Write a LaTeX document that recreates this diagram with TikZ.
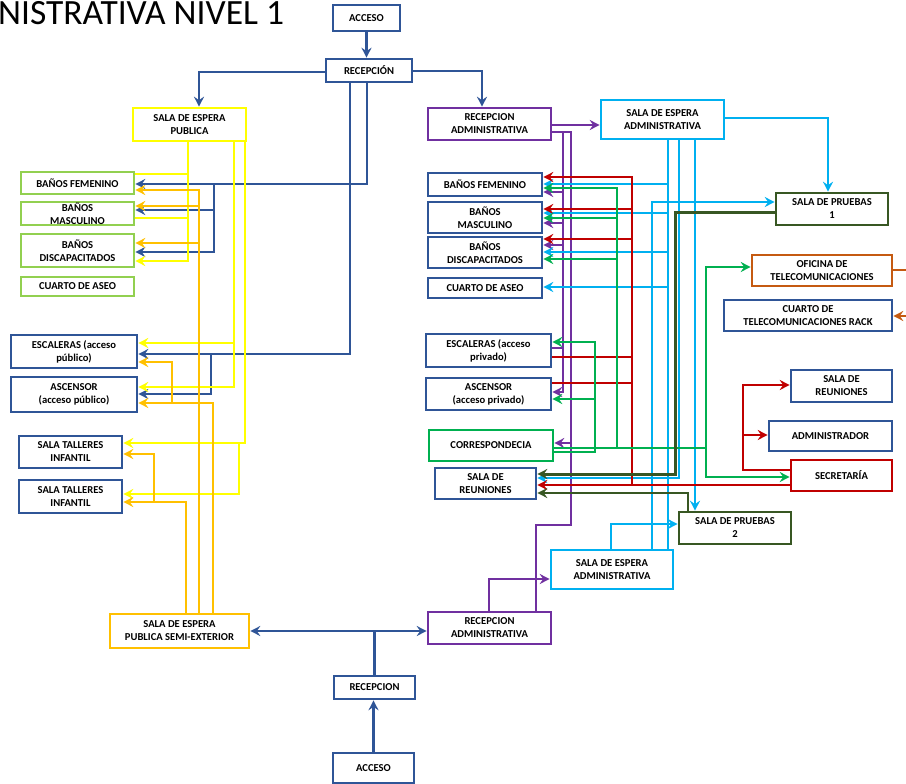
\documentclass[tikz,border=0pt]{standalone}
\usepackage{fontspec}
\setmainfont{Carlito}
\usetikzlibrary{arrows.meta}
\definecolor{cBlue}{RGB}{47,85,151}
\definecolor{cYel}{RGB}{255,255,0}
\definecolor{cGold}{RGB}{255,192,0}
\definecolor{cLG}{RGB}{146,208,80}
\definecolor{cPur}{RGB}{112,48,160}
\definecolor{cCyan}{RGB}{0,176,240}
\definecolor{cRed}{RGB}{192,0,0}
\definecolor{cGreen}{RGB}{0,176,80}
\definecolor{cDG}{RGB}{56,87,35}
\definecolor{cOr}{RGB}{197,90,17}
\newcommand{\bxfont}{\fontsize{10.6}{13}\selectfont\bfseries}
\tikzset{
  ln/.style={line width=2.6pt},
  ar/.style={line width=2.6pt,-{Stealth[length=10pt,width=10pt,inset=3.5pt]}},
  dar/.style={line width=2.6pt,{Stealth[length=10pt,width=10pt,inset=3.5pt]}-{Stealth[length=10pt,width=10pt,inset=3.5pt]}},
  box/.style={draw,line width=2.6pt,fill=white,inner sep=0pt,align=center,font=\bxfont,text=black}
}
\begin{document}
\begin{tikzpicture}[x=1pt,y=-1pt]
\path[use as bounding box] (0,0) rectangle (906,784);
\clip (0,0) rectangle (906,784);
% title
\node[anchor=base west,inner sep=0pt,font=\fontsize{35.5}{36}\selectfont] (title) at (-2,25) {NISTRATIVA NIVEL 1};
% top
\node[box,draw=cBlue,minimum width=67pt,minimum height=26pt] (acc1) at (366.5,18) {ACCESO};
\node[box,draw=cBlue,minimum width=86pt,minimum height=23pt] (rec1) at (369,70.5) {RECEPCIÓN};
\node[box,draw=cYel,minimum width=113pt,minimum height=33pt] (sep) at (189.5,124.5) {SALA DE ESPERA\\PUBLICA};
\node[box,draw=cPur,minimum width=123pt,minimum height=32pt] (rat) at (489.5,124) {RECEPCION\\ADMINISTRATIVA};
\node[box,draw=cCyan,minimum width=123pt,minimum height=39pt] (seat) at (662.5,119.5) {SALA DE ESPERA\\ADMINISTRATIVA};
% right
\node[box,draw=cDG,minimum width=112pt,minimum height=32pt] (sp1) at (832,209) {SALA DE PRUEBAS\\1};
\node[box,draw=cOr,minimum width=140pt,minimum height=31pt] (ofi) at (822,270.5) {OFICINA DE\\TELECOMUNICACIONES};
\node[box,draw=cBlue,minimum width=168pt,minimum height=31pt] (rack) at (808,315.5) {CUARTO DE\\TELECOMUNICACIONES RACK};
\node[box,draw=cBlue,minimum width=101pt,minimum height=32pt] (srr) at (841.5,386) {SALA DE\\REUNIONES};
\node[box,draw=cBlue,minimum width=123pt,minimum height=30pt] (adm) at (830.5,436) {ADMINISTRADOR};
\node[box,draw=cRed,minimum width=101pt,minimum height=31pt] (sec) at (841.5,475.5) {SECRETARÍA};
\node[box,draw=cDG,minimum width=112pt,minimum height=32pt] (sp2) at (735,528) {SALA DE PRUEBAS\\2};
% bottom
\node[box,draw=cCyan,minimum width=122pt,minimum height=39pt] (seab) at (612,569.5) {SALA DE ESPERA\\ADMINISTRATIVA};
\node[box,draw=cPur,minimum width=123pt,minimum height=32pt] (rab) at (489.5,628) {RECEPCION\\ADMINISTRATIVA};
\node[box,draw=cGold,minimum width=139pt,minimum height=34pt] (sepse) at (179.5,631) {SALA DE ESPERA\\PUBLICA SEMI-EXTERIOR};
\node[box,draw=cBlue,minimum width=81pt,minimum height=23pt] (rec2) at (374.5,687.5) {RECEPCION};
\node[box,draw=cBlue,minimum width=81pt,minimum height=30pt] (acc2) at (373.5,768) {ACCESO};
% left column
\node[box,draw=cLG,minimum width=113pt,minimum height=22pt] (lbf) at (77.5,183) {BAÑOS FEMENINO};
\node[box,draw=cLG,minimum width=113pt,minimum height=23pt] (lbm) at (77.5,213.5) {BAÑOS\\MASCULINO};
\node[box,draw=cLG,minimum width=113pt,minimum height=33pt] (lbd) at (77.5,250.5) {BAÑOS\\DISCAPACITADOS};
\node[box,draw=cLG,minimum width=113pt,minimum height=19pt] (lca) at (77.5,286.5) {CUARTO DE ASEO};
\node[box,draw=cBlue,minimum width=126pt,minimum height=33pt] (lesc) at (74,351.5) {ESCALERAS (acceso\\público)};
\node[box,draw=cBlue,minimum width=126pt,minimum height=35pt] (lasc) at (74,394.5) {ASCENSOR\\(acceso público)};
\node[box,draw=cBlue,minimum width=103pt,minimum height=32pt] (st1) at (70.5,452) {SALA TALLERES\\INFANTIL};
\node[box,draw=cBlue,minimum width=103pt,minimum height=33pt] (st2) at (70.5,496.5) {SALA TALLERES\\INFANTIL};
% middle column
\node[box,draw=cBlue,minimum width=114pt,minimum height=23pt] (mbf) at (485,184.5) {BAÑOS FEMENINO};
\node[box,draw=cBlue,minimum width=114pt,minimum height=31pt] (mbm) at (485,217.5) {BAÑOS\\MASCULINO};
\node[box,draw=cBlue,minimum width=114pt,minimum height=31pt] (mbd) at (485,252.5) {BAÑOS\\DISCAPACITADOS};
\node[box,draw=cBlue,minimum width=114pt,minimum height=20pt] (mca) at (485,288) {CUARTO DE ASEO};
\node[box,draw=cBlue,minimum width=125pt,minimum height=33pt] (mesc) at (488.5,350.5) {ESCALERAS (acceso\\privado)};
\node[box,draw=cBlue,minimum width=125pt,minimum height=32pt] (masc) at (488.5,394) {ASCENSOR\\(acceso privado)};
\node[box,draw=cGreen,minimum width=124pt,minimum height=31pt] (cor) at (491,445.5) {CORRESPONDECIA};
\node[box,draw=cBlue,minimum width=101pt,minimum height=31pt] (msr) at (485.5,483.5) {SALA DE\\REUNIONES};

% ---------- blue
\draw[ar,cBlue] (acc1.south) -- (acc1.south |- rec1.north);
\draw[ar,cBlue] (rec1.west |- 0,72) -| (sep.north -| 199,0);
\draw[ar,cBlue] (rec1.east |- 0,71) -| (rat.north -| 482,0);
\draw[ar,cBlue] (rec1.south -| 367,0) |- (lbf.east |- 0,184);
\draw[ar,cBlue] (214,184) |- (lbm.east |- 0,210);
\draw[ar,cBlue] (214,210) |- (lbd.east |- 0,252);
\draw[ar,cBlue] (rec1.south -| 350,0) |- (lesc.east |- 0,354);
\draw[ar,cBlue] (211,354) |- (lasc.east |- 0,394);
\draw[dar,cBlue] (sepse.east) -- (rab.west |- sepse.east);
\draw[ln,cBlue] (rec2.north) -- (rec2.north |- sepse.east);
\draw[ar,cBlue] (acc2.north) -- (acc2.north |- rec2.south);
% ---------- yellow
\draw[ar,cYel] (sep.south -| 188,0) |- (lbd.east |- 0,261);
\draw[ln,cYel] (188,174) -- (lbf.east |- 0,174);
\draw[ln,cYel] (188,218) -- (lbm.east |- 0,218);
\draw[ar,cYel] (sep.south -| 234,0) |- (lesc.east |- 0,343);
\draw[ar,cYel] (234,343) |- (lasc.east |- 0,387);
\draw[ar,cYel] (sep.south -| 245,0) |- (st1.east |- 0,443);
\draw[ar,cYel] (239,443) |- (st2.east |- 0,494);
% ---------- gold
\draw[ar,cGold] (sepse.north -| 199,0) |- (lbf.east |- 0,190);
\draw[ar,cGold] (199,206) -- (lbm.east |- 0,206);
\draw[ar,cGold] (199,243) -- (lbd.east |- 0,243);
\draw[ar,cGold] (sepse.north -| 213,0) |- (lasc.east |- 0,403);
\draw[ar,cGold] (172,403) |- (lesc.east |- 0,362);
\draw[ar,cGold] (sepse.north -| 186,0) |- (st2.east |- 0,502);
\draw[ar,cGold] (154,502) |- (st1.east |- 0,454);
% ---------- purple
\draw[ar,cPur] (rat.east |- 0,125) -- (seat.west |- 0,125);
\draw[ln,cPur] (rat.east |- 0,132) -- (571,132) -- (571,525) -- (536,525) -- (rab.north -| 536,0);
\draw[ar,cPur] (563,132) |- (masc.east |- 0,392);
\draw[ar,cPur] (563,192) -- (mbf.east |- 0,192);
\draw[ar,cPur] (563,223) -- (mbm.east |- 0,223);
\draw[ar,cPur] (563,245) -- (mbd.east |- 0,245);
\draw[ln,cPur] (563,348) -- (mesc.east |- 0,348);
\draw[ar,cPur] (571,443) -- (cor.east |- 0,443);
\draw[ar,cPur] (rab.north -| 489,0) |- (seab.west |- 0,579);
% ---------- cyan
\draw[ar,cCyan] (seat.east |- 0,118) -| (sp1.north -| 828,0);
\draw[ln,cCyan] (seat.south -| 668,0) -- (seab.north -| 668,0);
\draw[ar,cCyan] (668,184) -- (mbf.east |- 0,184);
\draw[ar,cCyan] (668,213) -- (mbm.east |- 0,213);
\draw[ar,cCyan] (668,252) -- (mbd.east |- 0,252);
\draw[ar,cCyan] (668,287) -- (mca.east |- 0,287);
\draw[ar,cCyan] (seat.south -| 679,0) |- (msr.east |- 0,478);
\draw[ar,cCyan] (seat.south -| 695,0) -- (sp2.north -| 695,0);
\draw[ar,cCyan] (seab.north -| 652,0) |- (sp1.west |- 0,202);
\draw[ar,cCyan] (seab.north -| 611,0) |- (sp2.west |- 0,524);
% ---------- red
\draw[ar,cRed] (sec.west |- 0,485) -- (msr.east |- 0,485);
\draw[ar,cRed] (632,485) |- (mbf.east |- 0,177);
\draw[ar,cRed] (632,209) -- (mbm.east |- 0,209);
\draw[ar,cRed] (632,239) -- (mbd.east |- 0,239);
\draw[ln,cRed] (632,357) -- (mesc.east |- 0,357);
\draw[ln,cRed] (632,383) -- (masc.east |- 0,383);
\draw[ar,cRed] (sec.west |- 0,470) -| (743,385) -- (srr.west |- 0,385);
\draw[ar,cRed] (743,435) -- (adm.west |- 0,435);
% ---------- green
\draw[ar,cGreen] (cor.east |- 0,452) -| (595,342) -- (mesc.east |- 0,342);
\draw[ar,cGreen] (595,399) -- (masc.east |- 0,399);
\draw[ln,cGreen] (cor.east |- 0,448) -- (706,448);
\draw[ar,cGreen] (706,448) |- (ofi.west |- 0,267);
\draw[ar,cGreen] (706,448) |- (sec.west |- 0,477);
\draw[ar,cGreen] (617,448) |- (mbf.east |- 0,188);
\draw[ar,cGreen] (617,218) -- (mbm.east |- 0,218);
\draw[ar,cGreen] (617,259) -- (mbd.east |- 0,259);
% ---------- dark green
\draw[ar,cDG,line width=3pt] (sp1.west |- 0,212) -| (675,474) -- (msr.east |- 0,474);
\draw[ar,cDG] (sp2.north -| 688,0) |- (msr.east |- 0,493);
% ---------- orange
\draw[ar,cOr] (ofi.east |- 0,270) -- (920,270) -- (920,316) -- (rack.east |- 0,316);
\end{tikzpicture}
\end{document}
